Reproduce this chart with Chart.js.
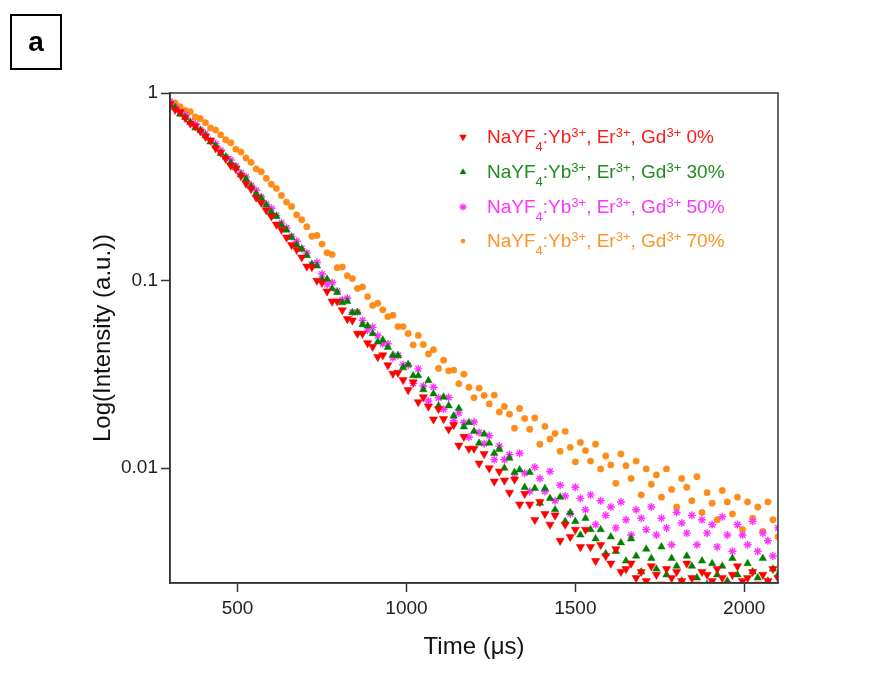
<!DOCTYPE html>
<html><head><meta charset="utf-8">
<script src="https://cdn.jsdelivr.net/npm/chart.js@4/dist/chart.umd.min.js"></script>
<style>html,body{margin:0;padding:0;background:#fff;}#wrap{position:relative;width:885px;height:688px;}</style>
</head><body><div id="wrap"><canvas id="c" width="885" height="688"></canvas></div>
<script>
// Time axis (µs)
const times = [
300,315,330,345,360,375,390,405,420,435,
450,465,480,495,510,525,540,555,570,585,
600,615,630,645,660,675,690,705,720,735,
750,765,780,795,810,825,840,855,870,885,
900,915,930,945,960,975,990,1005,1020,1035,
1050,1065,1080,1095,1110,1125,1140,1155,1170,1185,
1200,1215,1230,1245,1260,1275,1290,1305,1320,1335,
1350,1365,1380,1395,1410,1425,1440,1455,1470,1485,
1500,1515,1530,1545,1560,1575,1590,1605,1620,1635,
1650,1665,1680,1695,1710,1725,1740,1755,1770,1785,
1800,1815,1830,1845,1860,1875,1890,1905,1920,1935,
1950,1965,1980,1995,2010,2025,2040,2055,2070,2085,
2100];

// Normalized intensity, Gd3+ 0%
const gd0 = [
0.875,0.814,0.791,0.736,0.688,0.666,0.625,0.585,0.558,0.508,
0.482,0.446,0.411,0.394,0.361,0.329,0.308,0.277,0.260,0.237,
0.220,0.199,0.187,0.170,0.155,0.146,0.133,0.119,0.118,0.100,
0.0974,0.0875,0.0773,0.0775,0.0696,0.0625,0.0613,0.0521,0.0521,0.0464,
0.0444,0.0392,0.0400,0.0354,0.0319,0.0323,0.0295,0.0261,0.0287,0.0225,
0.0239,0.0213,0.0182,0.0207,0.0183,0.0161,0.0170,0.0132,0.0147,0.0127,
0.0127,0.0106,0.0119,0.0100,0.0085,0.0096,0.0086,0.0074,0.0087,0.0064,
0.0073,0.0064,0.0053,0.0066,0.0057,0.0050,0.0056,0.0041,0.0050,0.0043,
0.0047,0.0038,0.0047,0.0038,0.0032,0.0039,0.0034,0.0031,0.0037,0.0028,
0.0029,0.0031,0.0026,0.0028,0.0025,0.0030,0.0027,0.0024,0.0029,0.0026,
0.0028,0.0025,0.0031,0.0026,0.0024,0.0028,0.0027,0.0025,0.0029,0.0026,
0.0024,0.0027,0.0030,0.0025,0.0026,0.0028,0.0024,0.0027,0.0025,0.0029,
0.0026];

// Gd3+ 30%
const gd30 = [
0.865,0.836,0.772,0.742,0.697,0.652,0.633,0.592,0.549,0.522,
0.477,0.456,0.423,0.400,0.366,0.348,0.317,0.290,0.275,0.253,
0.232,0.220,0.198,0.186,0.170,0.155,0.147,0.1359,0.1222,0.1196,
0.1018,0.1018,0.0906,0.0866,0.0762,0.0774,0.0675,0.0678,0.0582,0.0573,
0.0522,0.0471,0.0482,0.0440,0.0401,0.0398,0.0343,0.0357,0.0311,0.0311,
0.0262,0.0293,0.0249,0.0215,0.0239,0.0215,0.0190,0.0208,0.0166,0.0175,
0.0157,0.0136,0.0152,0.0136,0.0120,0.0126,0.0100,0.0113,0.0095,0.0098,
0.0079,0.0095,0.0078,0.0065,0.0078,0.0069,0.0060,0.0070,0.0052,0.0058,
0.0052,0.0044,0.0054,0.0047,0.0042,0.0047,0.0035,0.0043,0.0036,0.0040,
0.0032,0.0042,0.0034,0.0028,0.0037,0.0033,0.0029,0.0038,0.0027,0.0033,
0.0030,0.0025,0.0034,0.0030,0.0026,0.0032,0.0024,0.0031,0.0027,0.0030,
0.0025,0.0033,0.0027,0.0024,0.0031,0.0028,0.0026,0.0033,0.0025,0.0029,
0.0027];

// Gd3+ 50%
const gd50 = [
0.902,0.846,0.793,0.763,0.704,0.681,0.637,0.607,0.558,0.536,
0.494,0.457,0.439,0.408,0.375,0.356,0.322,0.303,0.279,0.255,
0.243,0.222,0.203,0.191,0.172,0.162,0.148,0.140,0.1215,0.1247,
0.1083,0.0955,0.0976,0.0878,0.0789,0.0805,0.0678,0.0677,0.0613,0.0544,
0.0563,0.0509,0.0460,0.0460,0.0388,0.0399,0.0355,0.0354,0.0283,0.0338,
0.0274,0.0228,0.0270,0.0237,0.0206,0.0238,0.0179,0.0197,0.0175,0.0146,
0.0176,0.0155,0.0135,0.0149,0.0111,0.0131,0.0111,0.0118,0.0089,0.0120,
0.0094,0.0075,0.0101,0.0088,0.0075,0.0096,0.0067,0.0081,0.0071,0.0057,
0.0079,0.0069,0.0060,0.0072,0.0050,0.0067,0.0056,0.0062,0.0048,0.0066,
0.0053,0.0044,0.0060,0.0054,0.0047,0.0062,0.0044,0.0054,0.0048,0.0039,
0.0058,0.0051,0.0045,0.0056,0.0039,0.0053,0.0045,0.0050,0.0038,0.0055,
0.0044,0.0036,0.0050,0.0044,0.0039,0.0052,0.0036,0.0045,0.0041,0.0034,
0.0048];

// Gd3+ 70%
const gd70 = [
0.898,0.886,0.846,0.808,0.795,0.746,0.730,0.695,0.652,0.635,
0.598,0.563,0.543,0.502,0.485,0.450,0.427,0.394,0.380,0.351,
0.326,0.310,0.284,0.262,0.248,0.224,0.211,0.1935,0.1722,0.1738,
0.1564,0.1406,0.1377,0.1171,0.1180,0.1062,0.1024,0.0907,0.0925,0.0821,
0.0737,0.0757,0.0698,0.0642,0.0653,0.0568,0.0568,0.0522,0.0454,0.0510,
0.0456,0.0406,0.0428,0.0340,0.0376,0.0330,0.0333,0.0282,0.0317,0.0270,
0.0237,0.0267,0.0244,0.0220,0.0245,0.0199,0.0213,0.0194,0.0163,0.0208,
0.0184,0.0161,0.0185,0.0134,0.0167,0.0143,0.0153,0.0123,0.0157,0.0129,
0.0108,0.0137,0.0124,0.0109,0.0134,0.0099,0.0116,0.0104,0.0083,0.0119,
0.0103,0.0088,0.0109,0.0072,0.0099,0.0082,0.0092,0.0070,0.0099,0.0077,
0.0062,0.0088,0.0079,0.0067,0.0090,0.0058,0.0074,0.0065,0.0053,0.0076,
0.0066,0.0057,0.0070,0.0047,0.0066,0.0054,0.0062,0.0046,0.0066,0.0053,
0.0043];

const gdLevels = ['0%','30%','50%','70%'];
const xTickValues = [500,1000,1500,2000];
const yTickValues = [0.01,0.1,1];

const colors = ['#ff0000','#008000','#ff33ff','#ff8c1a'];
const textColors = ['#ff1a1a','#1f8a1f','#ff33ff','#ff9326'];
const seriesValues = [gd0, gd30, gd50, gd70];
const styles = [
  {pointStyle:'triangle', rotation:180, radius:4.8, fill:true},
  {pointStyle:'triangle', rotation:0, radius:4.3, fill:true},
  {pointStyle:'star', rotation:0, radius:4.0, fill:false},
  {pointStyle:'circle', rotation:0, radius:3.2, fill:true}
];

const datasets = seriesValues.map((vals,k)=>({
  label: 'NaYF4:Yb3+, Er3+, Gd3+ ' + gdLevels[k],
  data: times.map((t,i)=>({x:t, y:vals[i]})),
  pointStyle: styles[k].pointStyle,
  rotation: styles[k].rotation,
  pointRadius: styles[k].radius,
  pointHoverRadius: styles[k].radius,
  backgroundColor: styles[k].fill ? colors[k] : 'rgba(255,255,255,0)',
  borderColor: colors[k],
  borderWidth: styles[k].fill ? 0.5 : 1.4,
  showLine: false,
  clip: 0
}));

const FONT = '"Liberation Sans", Arial, sans-serif';

function drawMarker(ctx, k, x, y){
  const s = styles[k];
  ctx.save();
  ctx.fillStyle = colors[k]; ctx.strokeStyle = colors[k];
  const r = s.radius * 0.9;
  if (s.pointStyle === 'triangle'){
    const dir = s.rotation === 180 ? 1 : -1;
    ctx.beginPath();
    ctx.moveTo(x, y + dir*r);
    ctx.lineTo(x - r*0.87, y - dir*r*0.5);
    ctx.lineTo(x + r*0.87, y - dir*r*0.5);
    ctx.closePath(); ctx.fill();
  } else if (s.pointStyle === 'star'){
    ctx.lineWidth = 1.3;
    ctx.beginPath();
    for (let a=0;a<4;a++){
      const ang = a*Math.PI/4;
      ctx.moveTo(x - Math.cos(ang)*r, y - Math.sin(ang)*r);
      ctx.lineTo(x + Math.cos(ang)*r, y + Math.sin(ang)*r);
    }
    ctx.stroke();
  } else {
    ctx.beginPath(); ctx.arc(x,y,r*0.8,0,Math.PI*2); ctx.fill();
  }
  ctx.restore();
}

function legendParts(level){
  return [
    {t:'NaYF'},{t:'4',s:'sub'},{t:':Yb'},{t:'3+',s:'sup'},
    {t:', Er'},{t:'3+',s:'sup'},{t:', Gd'},{t:'3+',s:'sup'},{t:' '+level}
  ];
}

function drawRich(ctx, x, y, parts, color){
  ctx.fillStyle = color; ctx.textBaseline = 'alphabetic'; ctx.textAlign = 'left';
  for (const p of parts){
    let size = 19, dy = 0;
    if (p.s === 'sub'){ size = 13; dy = 8; }
    if (p.s === 'sup'){ size = 13; dy = -6; }
    ctx.font = size + 'px ' + FONT;
    ctx.fillText(p.t, x, y + dy);
    x += ctx.measureText(p.t).width;
  }
}

const decorPlugin = {
  id: 'decor',
  beforeDraw(chart){
    const ctx = chart.ctx;
    ctx.save();
    ctx.fillStyle = '#ffffff';
    ctx.fillRect(0,0,chart.width,chart.height);
    ctx.strokeStyle = '#000'; ctx.lineWidth = 2;
    ctx.strokeRect(11,15,50,54);
    ctx.fillStyle = '#000';
    ctx.font = 'bold 28px ' + FONT;
    ctx.textAlign = 'center'; ctx.textBaseline = 'middle';
    ctx.fillText('a', 36, 43);
    ctx.restore();
  },
  afterDraw(chart){
    const ctx = chart.ctx, a = chart.chartArea;
    ctx.save();
    ctx.strokeStyle = '#333'; ctx.lineWidth = 1.5;
    ctx.strokeRect(a.left, a.top, a.right - a.left, a.bottom - a.top);
    const baselines = [143,178,213,247];
    for (let k=0;k<4;k++){
      drawMarker(ctx, k, 463, baselines[k]-6);
      drawRich(ctx, 487, baselines[k], legendParts(gdLevels[k]), textColors[k]);
    }
    ctx.restore();
  }
};

new Chart(document.getElementById('c'), {
  type: 'scatter',
  data: { datasets },
  options: {
    responsive: false,
    animation: false,
    devicePixelRatio: 1,
    layout: { padding: { left: 80, right: 107, top: 93, bottom: 0 } },
    plugins: { legend: { display: false }, tooltip: { enabled: false } },
    scales: {
      x: {
        type: 'linear', min: 300, max: 2100,
        afterBuildTicks: s => { s.ticks = xTickValues.map(v=>({value:v})); },
        afterFit: s => { s.height = 105; },
        grid: { drawOnChartArea: false, drawTicks: true, tickLength: 9, tickColor: '#333', tickWidth: 1.5 },
        border: { display: true, color: '#333', width: 1.5 },
        ticks: { color: '#222', font: { size: 19, family: FONT }, padding: 5, maxRotation: 0, callback: v => String(v) },
        title: { display: true, text: 'Time (μs)', color: '#111', font: { size: 24, family: FONT }, padding: { top: 0, bottom: 26 } }
      },
      y: {
        type: 'logarithmic', min: 0.00244, max: 1,
        afterBuildTicks: s => { s.ticks = yTickValues.map(v=>({value:v})); },
        afterFit: s => { s.width = 90; },
        grid: { drawOnChartArea: false, drawTicks: true, tickLength: 9, tickColor: '#333', tickWidth: 1.5 },
        border: { display: true, color: '#333', width: 1.5 },
        ticks: { color: '#222', font: { size: 19, family: FONT }, padding: 3, callback: v => String(v) },
        title: { display: true, text: 'Log(Intensity (a.u.))', color: '#111', font: { size: 24, family: FONT }, padding: { top: 9, bottom: 0 } }
      }
    }
  },
  plugins: [decorPlugin]
});
</script>
</body></html>
